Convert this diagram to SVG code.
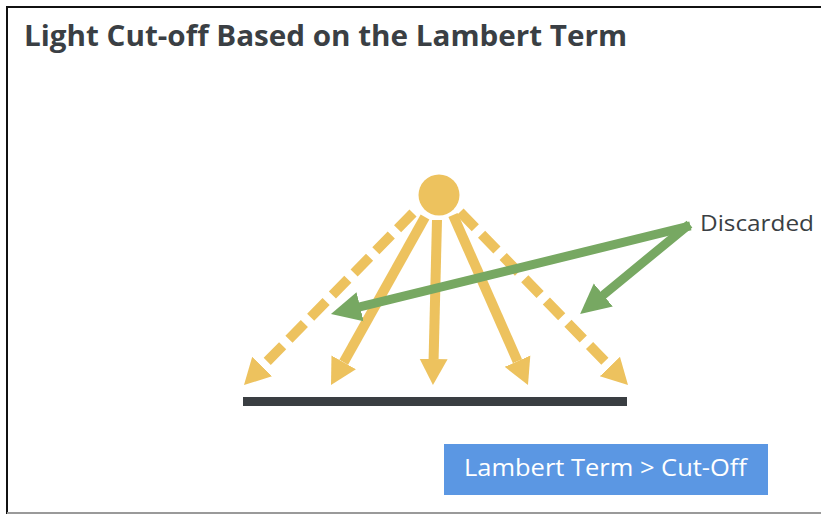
<svg xmlns="http://www.w3.org/2000/svg" width="821" height="514" viewBox="0 0 821 514">
<style>
.title{font-family:"Open Sans",Lato,"Liberation Sans",sans-serif;font-weight:700;font-size:28px;fill:#3a3f44}
.lbl{font-family:"Open Sans",Lato,"Liberation Sans",sans-serif;font-size:22px;fill:#3a3f44}
.btxt{font-family:"Open Sans",Lato,"Liberation Sans",sans-serif;font-size:24px;fill:#ffffff}
.ray{stroke:#EDC25E;stroke-width:10;fill:none}
.dash{stroke-dasharray:22 9}
.grn{stroke:#77A862;stroke-width:9;fill:none;stroke-linecap:square}
</style>
<defs>
<marker id="yh" markerUnits="userSpaceOnUse" markerWidth="30" markerHeight="30" viewBox="0 0 30 30" refX="0" refY="15" orient="auto">
<path d="M0,1 L26,15 L0,29 z" fill="#EDC25E"/>
</marker>
<marker id="gh" markerUnits="userSpaceOnUse" markerWidth="32" markerHeight="32" viewBox="0 0 32 32" refX="0" refY="16" orient="auto">
<path d="M0,1 L30,16 L0,31 z" fill="#77A862"/>
</marker>
</defs>
<rect x="0" y="0" width="821" height="514" fill="#ffffff"/>
<path d="M7,514 V7 H821" stroke="#111" stroke-width="2" fill="none"/>
<line x1="7" y1="513" x2="821" y2="513" stroke="#9a9a9a" stroke-width="2"/>
<text class="title" x="24" y="46" textLength="603" lengthAdjust="spacingAndGlyphs">Light Cut-off Based on the Lambert Term</text>
<g id="sun"><circle cx="439" cy="195" r="20.5" fill="#EDC25E"/></g>
<g id="ground"><rect x="243" y="397" width="384" height="9" fill="#3a3e42"/></g>
<g id="connectors">
<line class="ray dash" x1="413" y1="213" x2="262.2" y2="366.5" marker-end="url(#yh)"/>
<line class="ray" x1="425" y1="217" x2="343.7" y2="362.3" marker-end="url(#yh)"/>
<line class="ray" x1="437" y1="220" x2="433.6" y2="359" marker-end="url(#yh)"/>
<line class="ray" x1="453" y1="215" x2="517.5" y2="361.2" marker-end="url(#yh)"/>
<line class="ray dash" x1="460" y1="212" x2="609.9" y2="366.4" marker-end="url(#yh)"/>
<line class="grn" x1="686" y1="227" x2="360.1" y2="306.8" marker-end="url(#gh)"/>
<line class="grn" x1="686" y1="227" x2="603.3" y2="295" marker-end="url(#gh)"/>
</g>
<g id="discarded"><text class="lbl" x="700" y="231" textLength="114" lengthAdjust="spacingAndGlyphs">Discarded</text></g>
<g id="condition">
<rect x="444" y="444" width="324" height="51" fill="#5B97E3"/>
<text class="btxt" x="464" y="476" textLength="283" lengthAdjust="spacingAndGlyphs">Lambert Term &gt; Cut-Off</text>
</g>
</svg>
